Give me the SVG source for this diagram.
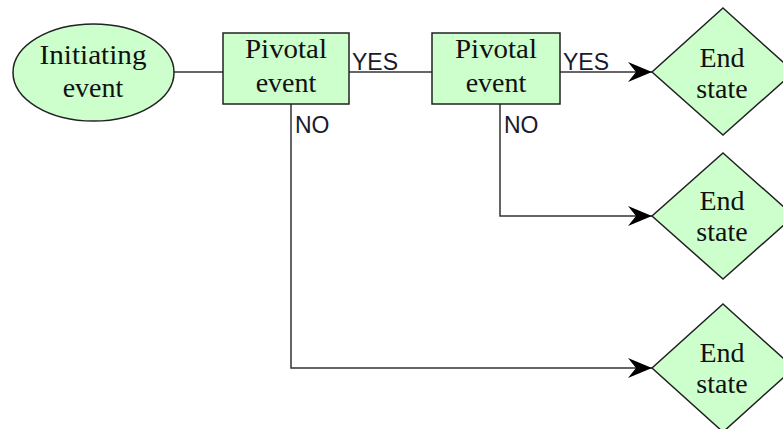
<svg xmlns="http://www.w3.org/2000/svg" width="783" height="429" viewBox="0 0 783 429">
<defs>
<style>
.shape{fill:#ccffcc;stroke:#222;stroke-width:1.5}
.t{font-family:"Liberation Serif","Times New Roman",serif;font-size:28px;fill:#111;text-anchor:middle}
.lbl{font-family:"Liberation Sans",Arial,sans-serif;font-size:23px;fill:#1a1a2e}
.conn{fill:none;stroke:#333;stroke-width:1.5}
</style>
<marker id="arr" markerUnits="userSpaceOnUse" viewBox="0 0 24 20" refX="24" refY="10" markerWidth="24" markerHeight="20" orient="auto">
<path d="M0,0 L24,10 L0,20 L8,10 Z" fill="#000"/>
</marker>
</defs>
<rect width="783" height="429" fill="#fff"/>
<g id="connectors">
<line class="conn" x1="174" y1="72" x2="223" y2="72"/>
<line class="conn" x1="349" y1="72" x2="432" y2="72"/>
<line class="conn" x1="560" y1="72" x2="652" y2="72" marker-end="url(#arr)"/>
<polyline class="conn" points="500,104 500,216 652,216" marker-end="url(#arr)"/>
<polyline class="conn" points="291,104 291,368 652,368" marker-end="url(#arr)"/>
<text class="lbl" x="352" y="70">YES</text>
<text class="lbl" x="563" y="70">YES</text>
<text class="lbl" x="295" y="133">NO</text>
<text class="lbl" x="504" y="133">NO</text>
</g>
<g id="initiating">
<ellipse class="shape" cx="93.5" cy="72.5" rx="80.5" ry="48.5"/>
<text class="t" x="93" y="64" textLength="107" lengthAdjust="spacingAndGlyphs">Initiating</text>
<text class="t" x="93" y="97">event</text>
</g>
<g id="pivotal1">
<rect class="shape" x="223" y="33" width="126" height="71"/>
<text class="t" x="286" y="58" textLength="82" lengthAdjust="spacingAndGlyphs">Pivotal</text>
<text class="t" x="286" y="92">event</text>
</g>
<g id="pivotal2">
<rect class="shape" x="432" y="33" width="128" height="71"/>
<text class="t" x="496" y="58" textLength="82" lengthAdjust="spacingAndGlyphs">Pivotal</text>
<text class="t" x="496" y="92">event</text>
</g>
<g id="end1">
<polygon class="shape" points="723,8 794,72 723,135 652,72"/>
<text class="t" x="722" y="67">End</text>
<text class="t" x="722" y="98">state</text>
</g>
<g id="end2">
<polygon class="shape" points="723,153 794,216 723,279 652,216"/>
<text class="t" x="722" y="210">End</text>
<text class="t" x="722" y="241">state</text>
</g>
<g id="end3">
<polygon class="shape" points="723,304 794,368 723,432 652,368"/>
<text class="t" x="722" y="362">End</text>
<text class="t" x="722" y="393">state</text>
</g>
</svg>
